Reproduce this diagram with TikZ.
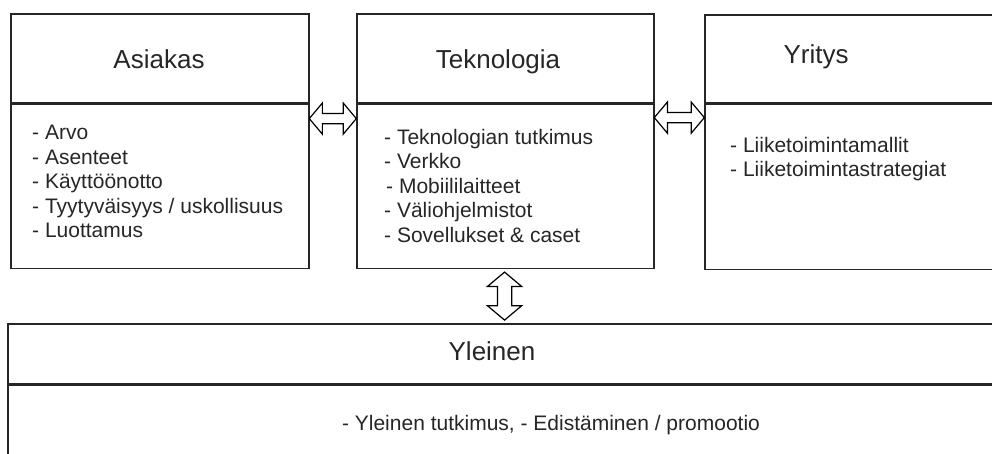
\documentclass[tikz,border=0pt]{standalone}
\usepackage{fontspec}
\setmainfont{Liberation Sans}
\usetikzlibrary{shapes,arrows,positioning,calc}

\tikzset{
  box/.style={draw=black!85, line width=1.6pt, rectangle, inner sep=0pt, anchor=north west},
  title/.style={font=\fontsize{26}{30}\selectfont, text=black!85, anchor=base},
  items/.style={font=\fontsize{21}{24.5}\selectfont, text=black!85, align=left, inner sep=0pt, anchor=north west},
  link/.style={double arrow, draw, line width=1.2pt, fill=white, inner sep=4.5pt,
    double arrow head extend=10.5pt, double arrow tip angle=100}
}

\begin{document}
\begin{tikzpicture}[x=1pt,y=-1pt]
  \useasboundingbox (0,0) rectangle (992,454);
  \clip (0,0) rectangle (992,454);

  % kolme laatikkoa ylhaalla
  \node[box, minimum width=298pt, minimum height=89pt] (asiakas) at (10,13) {};
  \node[box, minimum width=298pt, minimum height=164pt, below=0pt of asiakas.south west, anchor=north west] (asiakasbody) {};
  \node[box, minimum width=297pt, minimum height=89pt] (tekno) at (356,13) {};
  \node[box, minimum width=297pt, minimum height=164pt, below=0pt of tekno.south west, anchor=north west] (teknobody) {};
  \node[box, minimum width=310pt, minimum height=88pt] (yritys) at (704,14) {};
  \node[box, minimum width=310pt, minimum height=165pt, below=0pt of yritys.south west, anchor=north west] (yritysbody) {};

  % alalaatikko
  \node[box, minimum width=1000pt, minimum height=60pt] (yleinen) at (7,323) {};
  \node[box, minimum width=1000pt, minimum height=100pt, below=0pt of yleinen.south west, anchor=north west] (yleinenbody) {};

  \node[title] (asiakastitle) at (159,69) {Asiakas};
  \node[title] (teknotitle) at (498,69) {Teknologia};
  \node[title] (yritystitle) at (816,64) {Yritys};
  \node[title] (yleinentitle) at (492,360) {Yleinen};

  \node[items] (asiakaslist) at (32,125) {- Arvo\\- Asenteet\\- Käyttöönotto\\- Tyytyväisyys / uskollisuus\\- Luottamus};
  \node[items] (teknolist) at (384,129) {- Teknologian tutkimus\\- Verkko\\\hspace{2pt}- Mobiililaitteet\\- Väliohjelmistot\\- Sovellukset \& caset};
  \node[items] (yrityslist) at (730,137) {- Liiketoimintamallit\\- Liiketoimintastrategiat};
  \node[items, anchor=base] (yleinenlist) at (551,430) {- Yleinen tutkimus, - Edistäminen / promootio};

  % nuolet
  \node[link, minimum height=47pt] (a1) at ($(asiakasbody.north east)!.5!(teknobody.north west)+(0,15)$) {};
  \node[link, minimum height=50pt] (a2) at ($(teknobody.north east)!.5!(yritysbody.north west)+(0,14)$) {};
  \node[link, minimum height=48pt, rotate=90, inner sep=6.5pt, double arrow head extend=10pt] (a3) at ($(teknobody.south)!.5!(yleinen.north)+(-2,0)$) {};
\end{tikzpicture}
\end{document}
